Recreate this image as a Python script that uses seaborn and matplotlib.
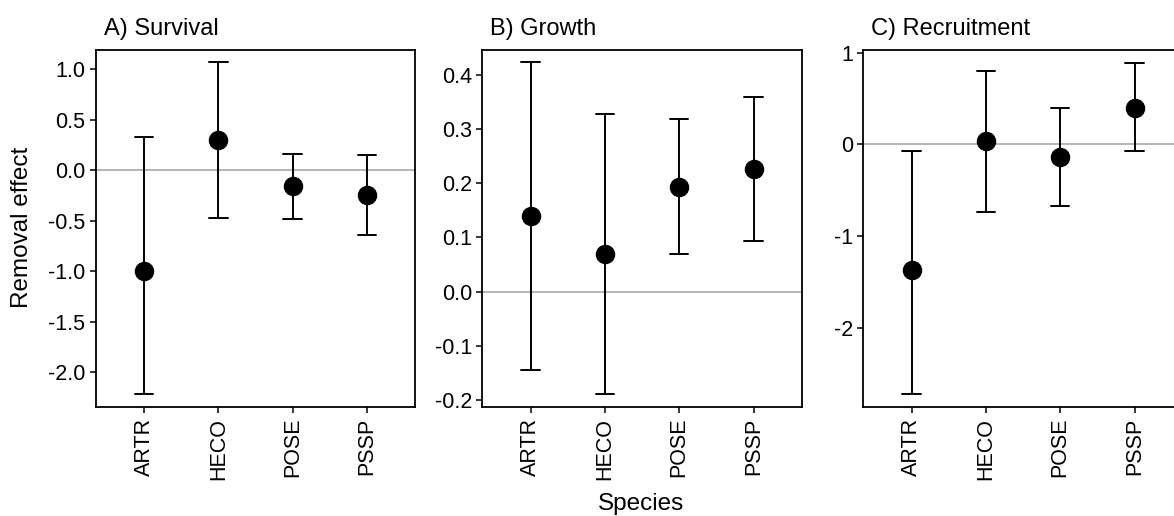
import numpy as np
import pandas as pd
import matplotlib
matplotlib.use("Agg")
import matplotlib.pyplot as plt
import seaborn as sns

species = ['ARTR', 'HECO', 'POSE', 'PSSP']

# point estimate and interval ends
surv_est = [-1.00, 0.30, -0.155, -0.25]
surv_lo = [-2.215, -0.47, -0.48, -0.645]
surv_hi = [0.33, 1.065, 0.16, 0.15]

grow_est = [0.140, 0.069, 0.194, 0.226]
grow_lo = [-0.145, -0.189, 0.070, 0.093]
grow_hi = [0.423, 0.327, 0.319, 0.360]

recr_est = [-1.367, 0.035, -0.142, 0.40]
recr_lo = [-2.723, -0.738, -0.669, -0.073]
recr_hi = [-0.073, 0.803, 0.393, 0.89]

sns.set_style("ticks")
plt.rcParams['font.family'] = ['Liberation Sans', 'DejaVu Sans']
plt.rcParams['axes.unicode_minus'] = False
plt.rcParams['text.color'] = 'black'


def long_table(est, lo, hi):
    rows = []
    for s, e, l, h in zip(species, est, lo, hi):
        for v in (l, e, h):
            rows.append({'Species': s, 'value': v})
    return pd.DataFrame(rows)


fig = plt.figure(figsize=(11.74, 5.16), dpi=100)
W = 1174.0
H = 516.0
bottom = (H - 407.3) / H
height = 357.3 / H
width = 319.5 / W
lefts = [95.7 / W, 482.3 / W, 863.3 / W]

panels = [
    ('A) Survival', surv_est, surv_lo, surv_hi, (-2.347, 1.188), np.arange(-2.0, 1.01, 0.5), '{:.1f}'),
    ('B) Growth', grow_est, grow_lo, grow_hi, (-0.2135, 0.446), np.arange(-0.2, 0.41, 0.1), '{:.1f}'),
    ('C) Recruitment', recr_est, recr_lo, recr_hi, (-2.868, 1.03), np.arange(-2, 1.1, 1), '{:.0f}'),
]

for left, (title, est, lo, hi, ylim, yt, fmt) in zip(lefts, panels):
    ax = fig.add_axes([left, bottom, width, height])
    df = long_table(est, lo, hi)
    ax.axhline(0, color='#a0a0a0', lw=1.1, zorder=0)
    sns.pointplot(data=df, x='Species', y='value', order=species,
                  estimator='median', errorbar=('pi', 100),
                  color='black', linestyle='none', marker='o',
                  markersize=12, capsize=0.25,
                  err_kws={'linewidth': 1.4}, ax=ax)
    ax.set_xlim(-0.65, 3.65)
    ax.set_ylim(*ylim)
    ax.set_yticks(yt)
    ax.set_yticklabels([fmt.format(v) for v in yt])
    ax.set_xlabel('')
    ax.set_ylabel('')
    ax.tick_params(axis='x', labelrotation=90)
    ax.tick_params(labelsize=15.5, length=4.5, width=1.1, colors='black',
                   labelcolor='black', pad=3)
    for sp in ax.spines.values():
        sp.set_visible(True)
        sp.set_linewidth(1.3)
        sp.set_color('black')
    ax.text(0.025, 1.042, title, transform=ax.transAxes, fontsize=17,
            ha='left', va='baseline', color='black')

fig.text(22 / W, 0.56, 'Removal effect', rotation=90, ha='center', va='center',
         fontsize=17.5, color='black')
fig.text(641 / W, 1 - 510 / H, 'Species', ha='center', va='baseline',
         fontsize=17.5, color='black')

fig.savefig('out.png', dpi=100)
